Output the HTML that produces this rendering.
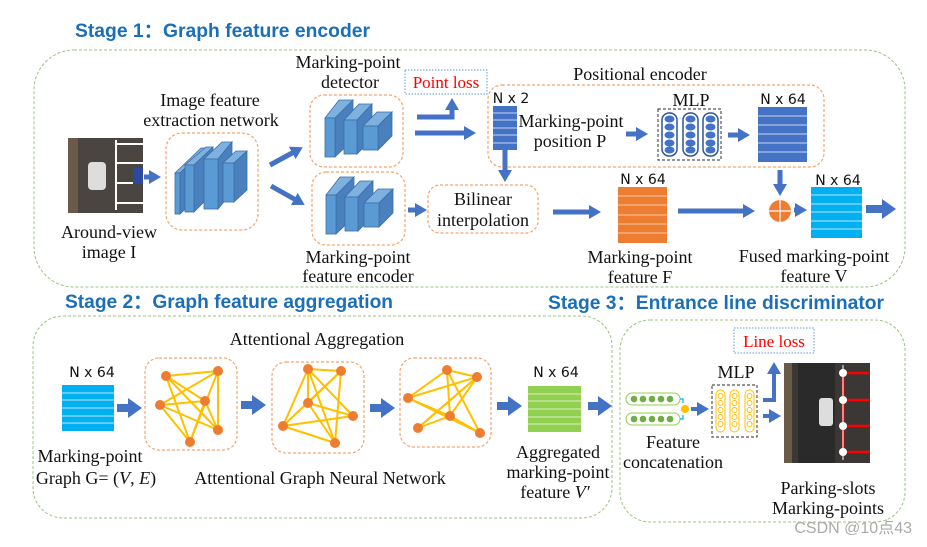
<!DOCTYPE html>
<html><head><meta charset="utf-8"><style>
html,body{margin:0;padding:0;background:#fff;}
svg{display:block;}
.t{font-family:"Liberation Serif",serif;font-size:18px;fill:#111;text-anchor:middle;}
.h{font-family:"Liberation Sans",sans-serif;font-weight:bold;font-size:19px;fill:#1a6fb8;}
.n{font-family:"DejaVu Sans","Liberation Sans",sans-serif;font-size:14px;fill:#111;text-anchor:middle;}
.fr{fill:#5b9bd5;stroke:#3a6ea5;stroke-width:0.8}
.tp{fill:#7eb0e0;stroke:#3a6ea5;stroke-width:0.8}
.sd{fill:#4a80bd;stroke:#3a6ea5;stroke-width:0.8}
.ob{fill:none;stroke:#f4a46a;stroke-width:1.2;stroke-dasharray:3 2}
.ar{stroke:#4472c4;stroke-width:5;fill:none}
.ar2{stroke:#4472c4;stroke-width:8;fill:none}
.ed{stroke:#ffc000;stroke-width:2}
.nd{fill:#ed7d31}
</style></head><body>
<svg width="927" height="547" viewBox="0 0 927 547" xmlns="http://www.w3.org/2000/svg">
<defs>
<marker id="m" markerUnits="userSpaceOnUse" markerWidth="12" markerHeight="14" refX="2" refY="7" orient="auto"><path d="M0,0 L12,7 L0,14 Z" fill="#4472c4"/></marker>
<marker id="M" markerUnits="userSpaceOnUse" markerWidth="14" markerHeight="20" refX="2" refY="10" orient="auto"><path d="M0,0 L14,10 L0,20 Z" fill="#4472c4"/></marker>
<g id="cnn3">
<polygon class="tp" points="325,118 339,100 353,100 339,118"/><polygon class="sd" points="335,118 353,100 353,140 335,157"/><rect class="fr" x="325" y="118" width="10" height="39"/>
<polygon class="tp" points="344,120 359,104 372,104 357,120"/><polygon class="sd" points="357,120 372,104 372,139 357,154"/><rect class="fr" x="344" y="120" width="13" height="34"/>
<polygon class="tp" points="363,126 377,112 392,112 378,126"/><polygon class="sd" points="378,126 392,112 392,136 378,150"/><rect class="fr" x="363" y="126" width="15" height="24"/>
</g>
</defs>

<!-- Stage 1 -->
<text class="h" x="75" y="37" textLength="295" lengthAdjust="spacingAndGlyphs">Stage 1：Graph feature encoder</text>
<rect x="34" y="50" width="871" height="237" rx="40" fill="none" stroke="#9cc27c" stroke-width="1" stroke-dasharray="3 2"/>
<rect x="68" y="138" width="75" height="75" fill="#4a4540"/>
<rect x="68" y="138" width="10" height="75" fill="#6a5a48"/>
<rect x="88" y="162" width="18" height="28" rx="4" fill="#ddd"/>
<g stroke="#fff" stroke-width="2"><line x1="116" y1="140" x2="116" y2="210"/><line x1="116" y1="144" x2="143" y2="144"/><line x1="116" y1="163" x2="143" y2="163"/><line x1="116" y1="183" x2="143" y2="183"/><line x1="116" y1="203" x2="143" y2="203"/></g>
<rect x="133" y="168" width="10" height="16" fill="#2a4aa0"/>
<text class="t" x="109" y="238">Around-view</text><text class="t" x="109" y="258">image I</text>
<line class="ar" x1="144" y1="177" x2="151" y2="177" marker-end="url(#m)"/>
<rect class="ob" x="166" y="133" width="92" height="97" rx="16"/>
<text class="t" x="210" y="106">Image feature</text><text class="t" x="211" y="126">extraction network</text>
<polygon class="tp" points="175,173 201,148 205,148 180,173"/><polygon class="sd" points="180,173 205,148 205,190 180,214"/><rect class="fr" x="175" y="173" width="5" height="41"/>
<polygon class="tp" points="185,165 206,147 213,147 194,165"/><polygon class="sd" points="194,165 213,147 213,193 194,212"/><rect class="fr" x="185" y="165" width="9" height="47"/>
<polygon class="tp" points="204,159 222,142 232,142 218,159"/><polygon class="sd" points="218,159 232,142 232,192 218,209"/><rect class="fr" x="204" y="159" width="14" height="50"/>
<polygon class="tp" points="223,163 236,151 247,151 234,163"/><polygon class="sd" points="234,163 247,151 247,190 234,202"/><rect class="fr" x="223" y="163" width="11" height="39"/>
<line class="ar" x1="270" y1="165" x2="294" y2="152" marker-end="url(#m)"/>
<line class="ar" x1="271" y1="186" x2="296" y2="200" marker-end="url(#m)"/>
<text class="t" x="348" y="68">Marking-point</text><text class="t" x="350" y="88">detector</text>
<rect class="ob" x="310" y="95" width="93" height="72" rx="14"/>
<use href="#cnn3"/>
<rect class="ob" x="312" y="172" width="93" height="73" rx="14"/>
<use href="#cnn3" transform="translate(1,77)"/>
<text class="t" x="358" y="263">Marking-point</text><text class="t" x="358" y="282">feature  encoder</text>
<rect x="405" y="70" width="82" height="24" fill="none" stroke="#5b9bd5" stroke-width="1" stroke-dasharray="1.5 1.5"/>
<text x="446" y="88" text-anchor="middle" font-family="Liberation Serif,serif" font-size="17" fill="#ff0000">Point loss</text>
<path class="ar" d="M417,117 L452,117 L452,108" marker-end="url(#m)"/>
<line class="ar" x1="415" y1="133" x2="466" y2="133" marker-end="url(#m)"/>
<line class="ar" x1="408" y1="210" x2="417" y2="210" marker-end="url(#m)"/>
<rect class="ob" x="428" y="185" width="110" height="48" rx="12"/>
<text class="t" x="483" y="205">Bilinear</text><text class="t" x="483" y="226">interpolation</text>
<text class="t" x="640" y="80">Positional encoder</text>
<rect class="ob" x="488" y="85" width="336" height="82" rx="14"/>
<text class="n" x="511" y="103">N x 2</text>
<rect x="493" y="106" width="24" height="44" fill="#4472c4"/>
<g stroke="#c9d6ee" stroke-width="1"><line x1="493" y1="113" x2="517" y2="113"/><line x1="493" y1="120" x2="517" y2="120"/><line x1="493" y1="128" x2="517" y2="128"/><line x1="493" y1="135" x2="517" y2="135"/><line x1="493" y1="143" x2="517" y2="143"/></g>
<text class="t" x="571" y="127">Marking-point</text><text class="t" x="570" y="147">position P</text>
<line class="ar" x1="626" y1="134" x2="638" y2="134" marker-end="url(#m)"/>
<text class="t" x="691" y="106">MLP</text>
<rect x="658" y="109" width="63" height="51" fill="none" stroke="#555" stroke-width="1.2" stroke-dasharray="3 2"/>
<g fill="none" stroke="#2f5597" stroke-width="1.5"><rect x="662" y="113" width="15" height="43" rx="7"/><rect x="683" y="113" width="15" height="43" rx="7"/><rect x="703" y="113" width="15" height="43" rx="7"/></g>
<g fill="#4472c4">
<ellipse cx="669.5" cy="119" rx="5" ry="3.5"/><ellipse cx="669.5" cy="127" rx="5" ry="3.5"/><ellipse cx="669.5" cy="135" rx="5" ry="3.5"/><ellipse cx="669.5" cy="143" rx="5" ry="3.5"/><ellipse cx="669.5" cy="150" rx="5" ry="3.5"/>
<ellipse cx="690.5" cy="119" rx="5" ry="3.5"/><ellipse cx="690.5" cy="127" rx="5" ry="3.5"/><ellipse cx="690.5" cy="135" rx="5" ry="3.5"/><ellipse cx="690.5" cy="143" rx="5" ry="3.5"/><ellipse cx="690.5" cy="150" rx="5" ry="3.5"/>
<ellipse cx="710.5" cy="119" rx="5" ry="3.5"/><ellipse cx="710.5" cy="127" rx="5" ry="3.5"/><ellipse cx="710.5" cy="135" rx="5" ry="3.5"/><ellipse cx="710.5" cy="143" rx="5" ry="3.5"/><ellipse cx="710.5" cy="150" rx="5" ry="3.5"/></g>
<line class="ar" x1="728" y1="135" x2="740" y2="135" marker-end="url(#m)"/>
<text class="n" x="783" y="104">N x 64</text>
<rect x="758" y="107" width="49" height="55" fill="#4472c4"/>
<g stroke="#c9d6ee" stroke-width="1"><line x1="758" y1="116" x2="807" y2="116"/><line x1="758" y1="125" x2="807" y2="125"/><line x1="758" y1="134" x2="807" y2="134"/><line x1="758" y1="143" x2="807" y2="143"/><line x1="758" y1="152" x2="807" y2="152"/></g>
<line class="ar" x1="505" y1="150" x2="505" y2="172" marker-end="url(#m)"/>
<line class="ar" x1="553" y1="212" x2="591" y2="212" marker-end="url(#m)"/>
<text class="n" x="643" y="184">N x 64</text>
<rect x="618" y="187" width="49" height="56" fill="#ed7d31"/>
<g stroke="#f8c9a8" stroke-width="1"><line x1="618" y1="196" x2="667" y2="196"/><line x1="618" y1="205" x2="667" y2="205"/><line x1="618" y1="215" x2="667" y2="215"/><line x1="618" y1="224" x2="667" y2="224"/><line x1="618" y1="233" x2="667" y2="233"/></g>
<text class="t" x="640" y="263">Marking-point</text><text class="t" x="640" y="283">feature F</text>
<line class="ar" x1="678" y1="211" x2="745" y2="211" marker-end="url(#m)"/>
<line class="ar" x1="780" y1="170" x2="780" y2="186" marker-end="url(#m)"/>
<circle cx="780" cy="211" r="11" fill="#ed7d31"/>
<g stroke="#fff" stroke-width="1.2"><line x1="769" y1="211" x2="791" y2="211"/><line x1="780" y1="200" x2="780" y2="222"/></g>
<line class="ar" x1="794" y1="210" x2="797" y2="210" marker-end="url(#m)"/>
<text class="n" x="838" y="185">N x 64</text>
<rect x="811" y="187" width="51" height="51" fill="#00b0f0"/>
<g stroke="#bfe9fb" stroke-width="1"><line x1="811" y1="195" x2="862" y2="195"/><line x1="811" y1="204" x2="862" y2="204"/><line x1="811" y1="212" x2="862" y2="212"/><line x1="811" y1="221" x2="862" y2="221"/><line x1="811" y1="229" x2="862" y2="229"/></g>
<line class="ar2" x1="866" y1="209" x2="884" y2="209" marker-end="url(#M)"/>
<text class="t" x="814" y="262">Fused marking-point</text><text class="t" x="814" y="282">feature V</text>

<!-- Stage 2 -->
<text class="h" x="65" y="308" textLength="328" lengthAdjust="spacingAndGlyphs">Stage 2：Graph feature aggregation</text>
<rect x="33" y="316" width="579" height="202" rx="30" fill="none" stroke="#9cc27c" stroke-width="1" stroke-dasharray="3 2"/>
<text class="t" x="317" y="345">Attentional Aggregation</text>
<text class="n" x="92" y="377">N x 64</text>
<rect x="62" y="385" width="52" height="46" fill="#00b0f0"/>
<g stroke="#bfe9fb" stroke-width="1"><line x1="62" y1="393" x2="114" y2="393"/><line x1="62" y1="400" x2="114" y2="400"/><line x1="62" y1="408" x2="114" y2="408"/><line x1="62" y1="416" x2="114" y2="416"/><line x1="62" y1="423" x2="114" y2="423"/></g>
<line class="ar2" x1="117" y1="408" x2="130" y2="408" marker-end="url(#M)"/>
<rect class="ob" x="145" y="358" width="92" height="92" rx="14"/>
<g class="ed"><line x1="166" y1="376" x2="218" y2="371"/><line x1="166" y1="376" x2="205" y2="401"/><line x1="166" y1="376" x2="218" y2="430"/><line x1="166" y1="376" x2="190" y2="442"/><line x1="218" y1="371" x2="160" y2="405"/><line x1="218" y1="371" x2="218" y2="430"/><line x1="218" y1="371" x2="190" y2="442"/><line x1="160" y1="405" x2="205" y2="401"/><line x1="160" y1="405" x2="218" y2="430"/><line x1="205" y1="401" x2="190" y2="442"/><line x1="205" y1="401" x2="218" y2="430"/><line x1="160" y1="405" x2="190" y2="442"/></g>
<g class="nd"><circle cx="166" cy="376" r="5"/><circle cx="218" cy="371" r="5"/><circle cx="160" cy="405" r="5"/><circle cx="205" cy="401" r="5"/><circle cx="218" cy="430" r="5"/><circle cx="190" cy="442" r="5"/></g>
<line class="ar2" x1="241" y1="405" x2="254" y2="405" marker-end="url(#M)"/>
<rect class="ob" x="272" y="362" width="92" height="91" rx="14"/>
<g class="ed"><line x1="308" y1="369" x2="341" y2="371"/><line x1="308" y1="369" x2="308" y2="403"/><line x1="308" y1="369" x2="353" y2="416"/><line x1="308" y1="369" x2="335" y2="443"/><line x1="341" y1="371" x2="308" y2="403"/><line x1="341" y1="371" x2="283" y2="426"/><line x1="341" y1="371" x2="335" y2="443"/><line x1="308" y1="403" x2="353" y2="416"/><line x1="308" y1="403" x2="335" y2="443"/><line x1="283" y1="426" x2="353" y2="416"/><line x1="283" y1="426" x2="335" y2="443"/><line x1="283" y1="426" x2="308" y2="369"/></g>
<g class="nd"><circle cx="308" cy="369" r="5"/><circle cx="341" cy="371" r="5"/><circle cx="308" cy="403" r="5"/><circle cx="353" cy="416" r="5"/><circle cx="283" cy="426" r="5"/><circle cx="335" cy="443" r="5"/></g>
<line class="ar2" x1="370" y1="408" x2="383" y2="408" marker-end="url(#M)"/>
<rect class="ob" x="400" y="358" width="91" height="89" rx="14"/>
<g class="ed"><line x1="447" y1="370" x2="477" y2="377"/><line x1="447" y1="370" x2="408" y2="398"/><line x1="447" y1="370" x2="450" y2="416"/><line x1="447" y1="370" x2="480" y2="433"/><line x1="477" y1="377" x2="408" y2="398"/><line x1="477" y1="377" x2="418" y2="428"/><line x1="477" y1="377" x2="450" y2="416"/><line x1="408" y1="398" x2="480" y2="433"/><line x1="408" y1="398" x2="450" y2="416"/><line x1="418" y1="428" x2="450" y2="416"/><line x1="418" y1="428" x2="477" y2="377"/><line x1="450" y1="416" x2="480" y2="433"/></g>
<g class="nd"><circle cx="447" cy="370" r="5"/><circle cx="477" cy="377" r="5"/><circle cx="408" cy="398" r="5"/><circle cx="450" cy="416" r="5"/><circle cx="418" cy="428" r="5"/><circle cx="480" cy="433" r="5"/></g>
<line class="ar2" x1="497" y1="406" x2="510" y2="406" marker-end="url(#M)"/>
<text class="n" x="556" y="377">N x 64</text>
<rect x="528" y="386" width="53" height="46" fill="#92d050"/>
<g stroke="#dff0c8" stroke-width="1"><line x1="528" y1="394" x2="581" y2="394"/><line x1="528" y1="401" x2="581" y2="401"/><line x1="528" y1="409" x2="581" y2="409"/><line x1="528" y1="417" x2="581" y2="417"/><line x1="528" y1="424" x2="581" y2="424"/></g>
<line class="ar2" x1="588" y1="406" x2="600" y2="406" marker-end="url(#M)"/>
<text class="t" x="90" y="462">Marking-point</text><text class="t" x="96" y="484">Graph  G= (<tspan font-style="italic">V</tspan>, <tspan font-style="italic">E</tspan>)</text>
<text class="t" x="320" y="484">Attentional Graph Neural Network</text>
<text class="t" x="558" y="458">Aggregated</text><text class="t" x="558" y="478">marking-point</text><text class="t" x="555" y="498">feature <tspan font-style="italic">V′</tspan></text>

<!-- Stage 3 -->
<text class="h" x="548" y="309" textLength="336" lengthAdjust="spacingAndGlyphs">Stage 3：Entrance line discriminator</text>
<rect x="620" y="320" width="285" height="202" rx="30" fill="none" stroke="#9cc27c" stroke-width="1" stroke-dasharray="3 2"/>
<rect x="734" y="328" width="80" height="25" fill="none" stroke="#5b9bd5" stroke-width="1" stroke-dasharray="1.5 1.5"/>
<text x="774" y="347" text-anchor="middle" font-family="Liberation Serif,serif" font-size="17" fill="#ff0000">Line loss</text>
<g fill="none" stroke="#92d050" stroke-width="1"><rect x="626" y="393" width="54" height="12" rx="6"/><rect x="626" y="413" width="54" height="12" rx="6"/></g>
<g fill="#70ad47"><circle cx="634" cy="399" r="3.3"/><circle cx="643" cy="399" r="3.3"/><circle cx="652" cy="399" r="3.3"/><circle cx="661" cy="399" r="3.3"/><circle cx="670" cy="399" r="3.3"/><circle cx="634" cy="419" r="3.3"/><circle cx="643" cy="419" r="3.3"/><circle cx="652" cy="419" r="3.3"/><circle cx="661" cy="419" r="3.3"/><circle cx="670" cy="419" r="3.3"/></g>
<path d="M680,399 h3 v4 M680,419 h3 v-4" fill="none" stroke="#00b0f0" stroke-width="1.2"/>
<circle cx="685" cy="409" r="4" fill="#ffc000"/>
<line stroke="#4472c4" stroke-width="4" x1="691" y1="409" x2="699" y2="409" marker-end="url(#m)"/>
<text class="t" x="736" y="378">MLP</text>
<rect x="712" y="385" width="45" height="52" fill="none" stroke="#555" stroke-width="1.2" stroke-dasharray="3 2"/>
<g fill="none" stroke="#ffc000" stroke-width="1"><rect x="716" y="390" width="9" height="42" rx="4.5"/><rect x="730" y="390" width="9" height="42" rx="4.5"/><rect x="745" y="390" width="9" height="42" rx="4.5"/>
<circle cx="720.5" cy="396" r="2.5"/><circle cx="720.5" cy="403" r="2.5"/><circle cx="720.5" cy="410" r="2.5"/><circle cx="720.5" cy="417" r="2.5"/><circle cx="720.5" cy="424" r="2.5"/>
<circle cx="734.5" cy="396" r="2.5"/><circle cx="734.5" cy="403" r="2.5"/><circle cx="734.5" cy="410" r="2.5"/><circle cx="734.5" cy="417" r="2.5"/><circle cx="734.5" cy="424" r="2.5"/>
<circle cx="749.5" cy="396" r="2.5"/><circle cx="749.5" cy="403" r="2.5"/><circle cx="749.5" cy="410" r="2.5"/><circle cx="749.5" cy="417" r="2.5"/><circle cx="749.5" cy="424" r="2.5"/></g>
<path stroke="#4472c4" stroke-width="4" fill="none" d="M763,400 H774 V372" marker-end="url(#m)"/>
<line stroke="#4472c4" stroke-width="4" x1="763" y1="416" x2="771" y2="416" marker-end="url(#m)"/>
<rect x="784" y="363" width="86" height="100" fill="#3a3734"/>
<rect x="784" y="363" width="8" height="100" fill="#6a5a48"/>
<rect x="798" y="363" width="37" height="100" fill="#2a2a2a"/>
<rect x="819" y="398" width="14" height="28" rx="3" fill="#ddd"/>
<g stroke="#ff0000" stroke-width="2.5"><line x1="843" y1="373" x2="870" y2="373"/><line x1="843" y1="400" x2="870" y2="400"/><line x1="843" y1="426" x2="870" y2="426"/><line x1="843" y1="452" x2="870" y2="452"/><line x1="843" y1="373" x2="843" y2="452"/></g>
<g stroke="#fff" stroke-width="1"><line x1="843" y1="365" x2="843" y2="460"/></g>
<g fill="#fff"><circle cx="843" cy="373" r="4"/><circle cx="843" cy="400" r="4"/><circle cx="843" cy="426" r="4"/><circle cx="843" cy="452" r="4"/></g>
<text class="t" x="673" y="448">Feature</text><text class="t" x="673" y="468">concatenation</text>
<text class="t" x="828" y="494">Parking-slots</text><text class="t" x="828" y="514">Marking-points</text>
<text x="912" y="533" text-anchor="end" font-family="Liberation Sans,'Noto Sans CJK SC',sans-serif" font-size="16" fill="#aaa">CSDN @10点43</text>
</svg>
</body></html>
